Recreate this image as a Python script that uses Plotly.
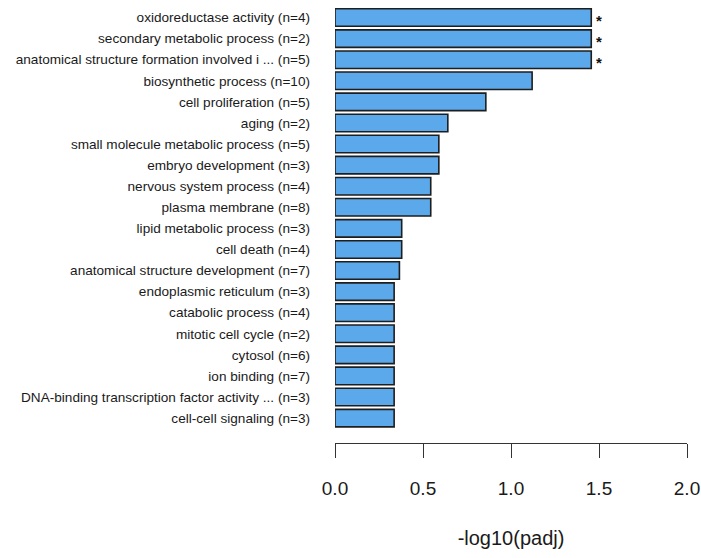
import plotly.graph_objects as go

terms = [
    "oxidoreductase activity (n=4)",
    "secondary metabolic process (n=2)",
    "anatomical structure formation involved i ... (n=5)",
    "biosynthetic process (n=10)",
    "cell proliferation (n=5)",
    "aging (n=2)",
    "small molecule metabolic process (n=5)",
    "embryo development (n=3)",
    "nervous system process (n=4)",
    "plasma membrane (n=8)",
    "lipid metabolic process (n=3)",
    "cell death (n=4)",
    "anatomical structure development (n=7)",
    "endoplasmic reticulum (n=3)",
    "catabolic process (n=4)",
    "mitotic cell cycle (n=2)",
    "cytosol (n=6)",
    "ion binding (n=7)",
    "DNA-binding transcription factor activity ... (n=3)",
    "cell-cell signaling (n=3)",
]
neg_log_padj = [1.456, 1.456, 1.456, 1.12, 0.857, 0.641, 0.59, 0.59, 0.544, 0.544,
                0.379, 0.379, 0.366, 0.336, 0.336, 0.336, 0.336, 0.336, 0.336, 0.336]
signif = ["*", "*", "*"] + [""] * 17

font_family = "Liberation Sans, Arial, sans-serif"

fig = go.Figure()

fig.add_trace(go.Bar(
    x=neg_log_padj,
    y=terms,
    orientation="h",
    width=0.833,
    marker=dict(color="#5BA9EA", line=dict(color="#1e1e1e", width=1.6)),
    cliponaxis=False,
    hoverinfo="skip",
))

# significance stars just past the end of each significant bar
for term, val, mark in zip(terms, neg_log_padj, signif):
    if mark:
        fig.add_annotation(
            x=val, y=term, xref="x", yref="y",
            text=f"<b>{mark}</b>",
            showarrow=False,
            xanchor="left", yanchor="middle",
            xshift=3, yshift=-3,
            font=dict(size=15, color="#111", family=font_family),
        )

fig.update_layout(
    width=701, height=558,
    margin=dict(l=335, r=14, t=7, b=115),
    plot_bgcolor="white", paper_bgcolor="white",
    showlegend=False,
    font=dict(family=font_family, color="#1a1a1a"),
    xaxis=dict(
        range=[0, 2.0],
        automargin=False,
        tickvals=[0, 0.5, 1.0, 1.5, 2.0],
        ticktext=["0.0", "0.5", "1.0", "1.5", "2.0"],
        showgrid=False, zeroline=False,
        showline=True, linecolor="#333", linewidth=1,
        ticks="outside", ticklen=14, tickcolor="#333", tickwidth=1,
        ticklabelstandoff=14,
        tickfont=dict(size=19, color="#1a1a1a"),
        title=dict(text="-log10(padj)", font=dict(size=20, color="#1a1a1a"), standoff=33),
    ),
    yaxis=dict(
        type="category",
        automargin=False,
        range=[20.18, -0.5],
        showgrid=False, zeroline=False, showline=False,
        ticks="", ticklabelstandoff=24,
        tickfont=dict(size=13.6, color="#1a1a1a"),
    ),
)

fig.write_html("out.html")
